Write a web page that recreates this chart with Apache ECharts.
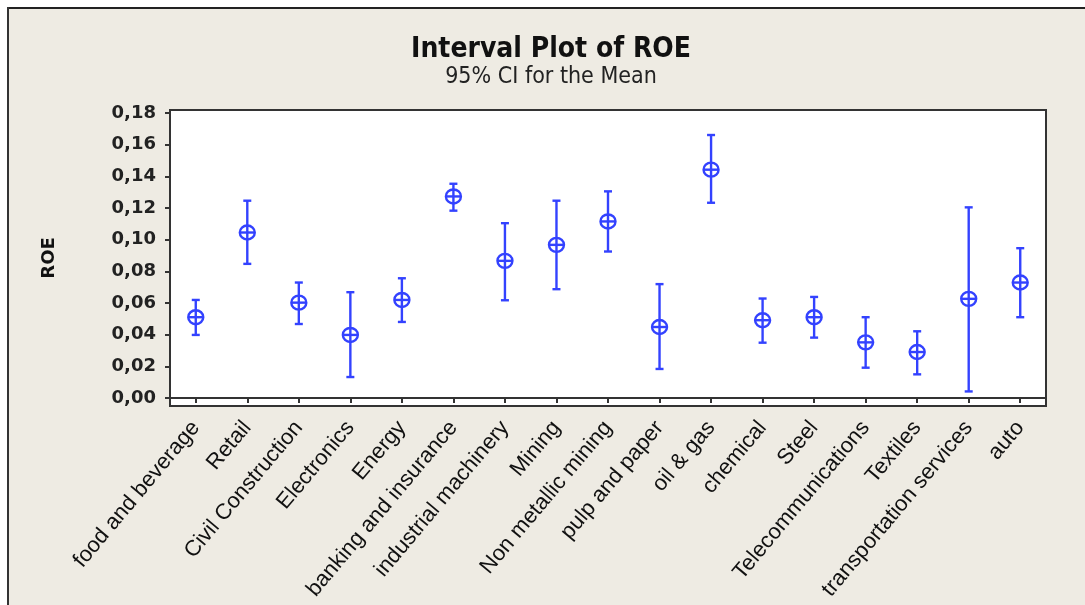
<!DOCTYPE html>
<html>
<head>
<meta charset="utf-8">
<script src="https://cdn.jsdelivr.net/npm/echarts@6/dist/echarts.min.js"></script>
<style>
html,body{margin:0;padding:0;background:#ffffff;}
#chart{position:absolute;left:0;top:0;width:1085px;height:605px;}
</style>
</head>
<body>
<div id="chart"></div>
<script>
const categories = ["food and beverage","Retail","Civil Construction","Electronics","Energy","banking and insurance","industrial machinery","Mining","Non metallic mining","pulp and paper","oil & gas","chemical","Steel","Telecommunications","Textiles","transportation services","auto"];
const means = [0.0511,0.1046,0.0603,0.0399,0.0620,0.1274,0.0867,0.0968,0.1116,0.0449,0.1443,0.0492,0.0511,0.0352,0.0291,0.0627,0.0730];
const lows  = [0.0399,0.0848,0.0468,0.0133,0.0481,0.1184,0.0618,0.0688,0.0926,0.0184,0.1234,0.0350,0.0382,0.0192,0.0150,0.0042,0.0511];
const highs = [0.0620,0.1247,0.0730,0.0669,0.0757,0.1354,0.1105,0.1247,0.1306,0.0720,0.1662,0.0629,0.0639,0.0511,0.0422,0.1205,0.0947];
const yTicks = [0,0.02,0.04,0.06,0.08,0.10,0.12,0.14,0.16,0.18];

const data = categories.map((c,i)=>[i, means[i], lows[i], highs[i]]);
const blue = '#3342ff';
const chart = echarts.init(document.getElementById('chart'), null, {renderer:'canvas'});

function renderItem(params, api){
  const c = api.coord([api.value(0), api.value(1)]);
  const lo = api.coord([api.value(0), api.value(2)]);
  const hi = api.coord([api.value(0), api.value(3)]);
  const x = c[0];
  const cap = 4;
  const st = {stroke: blue, lineWidth: 2.4, fill: null};
  return {
    type:'group',
    children:[
      {type:'line', shape:{x1:x,y1:hi[1],x2:x,y2:lo[1]}, style:st},
      {type:'line', shape:{x1:x-cap,y1:hi[1],x2:x+cap,y2:hi[1]}, style:st},
      {type:'line', shape:{x1:x-cap,y1:lo[1],x2:x+cap,y2:lo[1]}, style:st},
      {type:'ellipse', shape:{cx:x,cy:c[1],rx:7.5,ry:7}, style:{stroke:blue,lineWidth:2.4,fill:'rgba(0,0,0,0)'}},
      {type:'line', shape:{x1:x-7.5,y1:c[1],x2:x+7.5,y2:c[1]}, style:st}
    ]
  };
}

chart.setOption({
  backgroundColor:'#eeebe3',
  animation:false,
  graphic:[
    {type:'rect', shape:{x:0,y:0,width:1085,height:7}, style:{fill:'#ffffff'}, silent:true},
    {type:'rect', shape:{x:0,y:0,width:7,height:605}, style:{fill:'#ffffff'}, silent:true},
    {type:'rect', shape:{x:7,y:7,width:1078,height:2}, style:{fill:'#222222'}, silent:true},
    {type:'rect', shape:{x:7,y:7,width:2,height:598}, style:{fill:'#333333'}, silent:true},
    {type:'text', x:551, y:50, style:{text:'Interval Plot of ROE', fontFamily:'"DejaVu Sans Condensed","DejaVu Sans",sans-serif', fontWeight:'bold', fontSize:28, fill:'#111', textAlign:'center', textVerticalAlign:'middle'}},
    {type:'text', x:551, y:77, style:{text:'95% CI for the Mean', fontFamily:'"DejaVu Sans Condensed","DejaVu Sans",sans-serif', fontSize:23, fill:'#222', textAlign:'center', textVerticalAlign:'middle'}}
  ],
  grid:{left:170, right:39, top:110, bottom:199, show:true, backgroundColor:'#ffffff', borderColor:'#333', borderWidth:2},
  xAxis:{
    type:'category', data:categories, boundaryGap:true,
    axisLine:{show:true, lineStyle:{color:'#333', width:2}},
    axisTick:{show:true, alignWithLabel:true, length:5, lineStyle:{color:'#333', width:2}},
    axisLabel:{rotate:50, interval:0, margin:18, fontFamily:'"Liberation Sans",Arial,sans-serif', fontSize:22, color:'#111'},
    splitLine:{show:false}
  },
  yAxis:{
    type:'value', min:-0.005, max:0.182,
    name:'ROE', nameLocation:'middle', nameGap:112, nameRotate:90,
    nameTextStyle:{fontFamily:'"DejaVu Sans",sans-serif', fontWeight:'bold', fontSize:18, color:'#111'},
    axisLine:{show:true, lineStyle:{color:'#333', width:2}},
    axisTick:{show:true, length:5, customValues:yTicks, lineStyle:{color:'#333', width:2}},
    axisLabel:{customValues:yTicks, margin:14, fontFamily:'"DejaVu Sans",sans-serif', fontWeight:'bold', fontSize:18, color:'#222',
      formatter:v=>v.toFixed(2).replace('.',',')},
    splitLine:{show:false}
  },
  series:[{type:'custom', renderItem:renderItem, data:data, encode:{x:0,y:[1,2,3]}, clip:false}]
});
</script>
</body>
</html>
